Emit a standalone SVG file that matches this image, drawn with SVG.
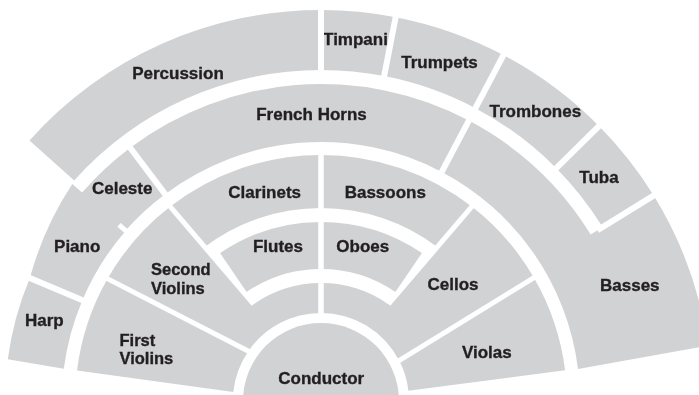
<svg xmlns="http://www.w3.org/2000/svg" width="699" height="395" viewBox="0 0 699 395">
<style>
.t{fill:#d1d2d4}
text{font-family:"Liberation Sans",Arial,sans-serif;font-weight:bold;font-size:17px;fill:#231f20;stroke:#231f20;stroke-width:0.35px;text-anchor:middle}
.l{text-anchor:start;font-size:16.5px}
</style>
<defs>
<mask id="gaps" maskUnits="userSpaceOnUse" x="0" y="0" width="699" height="395">
<rect x="0" y="0" width="699" height="395" fill="#fff"/>
<g stroke="#000" stroke-width="6" fill="none">
<path d="M321,4 L321,76"/>
<path d="M383,82 L396.8,11.3"/>
<path d="M439,177.2 L506.2,49.8"/>
<path d="M552,172.4 L603.2,121.8"/>
<path d="M597.5,230.2 L658.8,192.4"/>
<path d="M87.9,302.6 L24.4,275.7"/>
<path d="M168.7,198.9 L126.6,143"/>
</g>
<g stroke="#000" stroke-width="5" fill="none">
<path d="M130.3,234.7 L119,224.8"/>
<path d="M321,150 L321,318" stroke-width="5.5"/>
<path d="M103.9,276.9 L252,353"/>
<path d="M167.65,203.6 L253.6,304.2"/>
<path d="M474.35,203.6 L388.4,304.2"/>
<path d="M537.3,275.6 L395.8,362.6"/>
</g>
</mask>
</defs>
<rect width="699" height="395" fill="#fff"/>
<g id="sections" mask="url(#gaps)">
<g id="percussion"><path class="t" d="M29.5,140.4 A391,391 0 0 1 321,10 L321,70 A331,331 0 0 0 74.2,180.4 Z"/><text x="178" y="79">Percussion</text></g>
<g id="timpani"><path class="t" d="M321,10 A391,391 0 0 1 395.6,17.2 L384.2,76.1 A331,331 0 0 0 321,70 Z"/><text x="355.5" y="45">Timpani</text></g>
<g id="trumpets"><path class="t" d="M395.6,17.2 A391,391 0 0 1 503.4,55.1 L475.4,108.2 A331,331 0 0 0 384.2,76.1 Z"/><text x="439.5" y="68">Trumpets</text></g>
<g id="trombones"><path class="t" d="M503.4,55.1 A391,391 0 0 1 598.9,126 L556.3,168.2 A331,331 0 0 0 475.4,108.2 Z"/><text x="535.3" y="117">Trombones</text></g>
<g id="tuba"><path class="t" d="M598.9,126 A391,391 0 0 1 653.7,195.5 L602.6,227.1 A331,331 0 0 0 556.3,168.2 Z"/><text x="599" y="183">Tuba</text></g>
<g id="french-horns"><path class="t" d="M130.2,147.8 A317,317 0 0 1 468.8,120.6 L441.8,171.9 A259,259 0 0 0 165.1,194.2 Z"/><text x="311.5" y="120">French Horns</text></g>
<g id="piano"><path class="t" d="M29.9,278 A325,325 0 0 1 72.3,184.1 L125.8,230.7 A259,259 0 0 0 82.4,300.2 Z"/><text x="77.2" y="251.5">Piano</text></g>
<g id="celeste"><path class="t" d="M82.1,192.6 A317,317 0 0 1 130.2,147.8 L165.1,194.2 A259,259 0 0 0 124.7,231.4 L80.8,193.8 Z"/><text x="122.2" y="194">Celeste</text></g>
<g id="harp"><path class="t" d="M7.8,359.2 A316,316 0 0 1 29.9,278 L82.4,300.2 A259,259 0 0 0 63.8,368.8 Z"/><text x="44.3" y="326">Harp</text></g>
<g id="basses"><path class="t" d="M578,369 L708,345.7 A391,391 0 0 0 653.7,195.5 L590.7,234.4 A317,317 0 0 0 468.8,120.6 L441.8,171.9 A259,259 0 0 1 578,369 Z"/><text x="629.8" y="291">Basses</text></g>
<g id="clarinets"><path class="t" d="M170.25,206.6 A246,246 0 0 1 321,155 L321,208 A193,193 0 0 0 204.7,247 Z"/><text x="264.7" y="198.3">Clarinets</text></g>
<g id="bassoons"><path class="t" d="M321,155 A246,246 0 0 1 471.75,206.6 L437.3,247 A193,193 0 0 0 321,208 Z"/><text x="385.3" y="198">Bassoons</text></g>
<g id="flutes"><path class="t" d="M220.1,253.1 A179,179 0 0 1 321,222 L321,269 A132,132 0 0 0 246.6,292 Z"/><text x="278" y="252.3">Flutes</text></g>
<g id="oboes"><path class="t" d="M321,222 A179,179 0 0 1 421.9,253.1 L395.4,292 A132,132 0 0 0 321,269 Z"/><text x="362.8" y="252">Oboes</text></g>
<g id="second-violins"><path class="t" d="M107.5,278.75 A246,246 0 0 1 170.25,206.6 L253.6,304.2 A118,118 0 0 1 321,283 L321,313 A88,88 0 0 0 248.4,351.2 Z"/><text class="l" x="151" y="275">Second<tspan x="151" dy="18.5">Violins</tspan></text></g>
<g id="first-violins"><path class="t" d="M77,370.5 A246,246 0 0 1 107.5,278.75 L248.4,351.2 A88,88 0 0 0 233.3,392 Z"/><text class="l" x="119.5" y="345.5">First<tspan x="119.5" dy="18.5">Violins</tspan></text></g>
<g id="cellos"><path class="t" d="M471.75,206.6 A246,246 0 0 1 533.9,277.7 L399.2,360.5 A88,88 0 0 0 321,313 L321,283 A118,118 0 0 1 388.4,304.2 Z"/><text x="453" y="290">Cellos</text></g>
<g id="violas"><path class="t" d="M533.9,277.7 A246,246 0 0 1 565.1,370.25 L408.4,390.7 A88,88 0 0 0 399.2,360.5 Z"/><text x="486.8" y="358.3">Violas</text></g>
<g id="conductor"><circle class="t" cx="321" cy="401" r="78"/><text x="321.2" y="384">Conductor</text></g>
</g>
</svg>
